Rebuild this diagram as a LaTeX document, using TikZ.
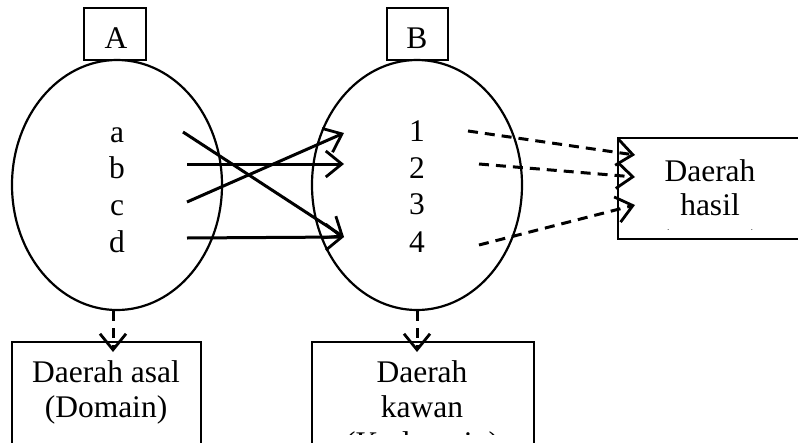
\documentclass[tikz,border=0pt]{standalone}
\usepackage{fontspec}
\setmainfont{Liberation Serif}
\usetikzlibrary{arrows.meta,shapes.geometric}
\begin{document}
\begin{tikzpicture}[x=1pt,y=-1pt,
  lbl/.style={font=\fontsize{31.5}{35}\selectfont, inner sep=0pt, anchor=base},
  bx/.style={draw, line width=1.5pt, inner sep=0pt},
  ell/.style={draw, ellipse, line width=2.2pt, inner sep=0pt, minimum width=210pt, minimum height=250pt},
  sarr/.style={line width=3pt, -{Straight Barb[length=16pt,width=26pt,line width=2.8pt]}},
  darr/.style={sarr, dash pattern=on 10pt off 7pt}]
\useasboundingbox (0,0) rectangle (798,442);
\clip (0,0) rectangle (798,442);

% top label boxes
\node[bx, minimum width=62pt, minimum height=52pt] (boxA) at (115,34) {};
\node[lbl] (A) at (116,48) {A};
\node[bx, minimum width=61pt, minimum height=52pt] (boxB) at (417.5,34) {};
\node[lbl] (B) at (417,48) {B};

% ellipses
\node[ell] (EA) at (117,185) {};
\node[ell] (EB) at (417,185) {};

% elements
\node[lbl] (la) at (117,142) {a};
\node[lbl] (lb) at (117,178) {b};
\node[lbl] (lc) at (117,215) {c};
\node[lbl] (ld) at (117,252) {d};
\node[lbl] (n1) at (417,141) {1};
\node[lbl] (n2) at (417,178) {2};
\node[lbl] (n3) at (417,214) {3};
\node[lbl] (n4) at (417,252) {4};

% range box
\node[bx, minimum width=184pt, minimum height=101pt] (R) at (710,188.5) {};
\begin{scope}
\clip (619,139) rectangle (802,229);
\node[lbl] (R1) at (710,181) {Daerah};
\node[lbl] (R2) at (710,215) {hasil};
\node[lbl] (R3) at (710,251) {(Range)};
\end{scope}

% domain box
\node[bx, minimum width=189pt, minimum height=140pt] (D) at (106.5,412) {};
\begin{scope}
\clip (13,343) rectangle (200,442);
\node[lbl] (D1) at (106,382) {Daerah asal};
\node[lbl] (D2) at (106,417) {(Domain)};
\end{scope}

% codomain box
\node[bx, minimum width=222pt, minimum height=140pt] (K) at (423,412) {};
\begin{scope}
\clip (313,343) rectangle (533,434);
\node[lbl] (K1) at (422,382) {Daerah};
\node[lbl] (K2) at (422,417) {kawan};
\node[lbl] (K3) at (422,453) {(Kodomain)};
\end{scope}

% mapping arrows
\coordinate (aS) at (183,132);
\coordinate (bS) at (187,164);
\coordinate (cS) at (187,202);
\coordinate (dS) at (187,238);
\coordinate (t1) at (344,133);
\coordinate (t2) at (344,164);
\coordinate (t4) at (344,237);
\draw[sarr] (aS) -- (t4);
\draw[sarr] (bS) -- (t2);
\draw[sarr] (cS) -- (t1);
\draw[sarr] (dS) -- (t4);

% dashed arrows to range
\coordinate (s1) at (468,131);
\coordinate (s2) at (479,164);
\coordinate (s4) at (479,245);
\coordinate (r1) at (635,155);
\coordinate (r2) at (635,177);
\coordinate (r4) at (635,205);
\draw[darr] (s1) -- (r1);
\draw[darr] (s2) -- (r2);
\draw[darr] (s4) -- (r4);

% dashed arrows down
\coordinate (dA) at (113,352);
\coordinate (dB) at (417,352);
\draw[darr] (EA.south -| dA) -- (dA);
\draw[darr] (EB.south -| dB) -- (dB);
\end{tikzpicture}
\end{document}
